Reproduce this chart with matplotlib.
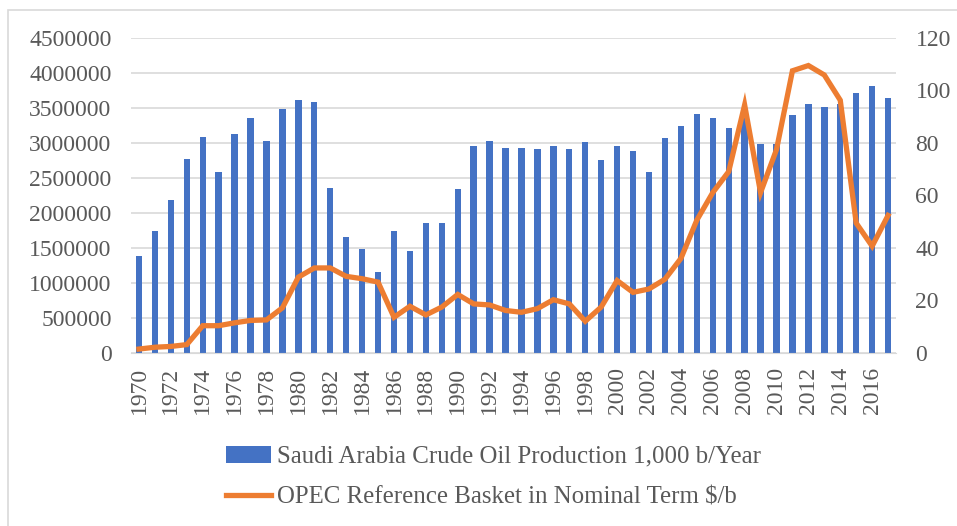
import matplotlib.pyplot as plt
import numpy as np
from matplotlib.patches import Rectangle

# data
years = list(range(1970, 2018))
production = [1380000, 1740000, 2190000, 2770000, 3090000, 2580000, 3130000, 3350000,
              3030000, 3480000, 3610000, 3580000, 2360000, 1650000, 1490000, 1150000,
              1740000, 1450000, 1860000, 1850000, 2340000, 2960000, 3030000, 2930000,
              2930000, 2920000, 2960000, 2910000, 3020000, 2760000, 2950000, 2880000,
              2580000, 3070000, 3240000, 3410000, 3360000, 3220000, 3360000, 2990000,
              2980000, 3400000, 3560000, 3520000, 3550000, 3720000, 3820000, 3640000]
opec_price = [1.5, 2.2, 2.5, 3.2, 10.4, 10.4, 11.5, 12.4, 12.6, 17.2, 28.9, 32.4,
              32.4, 29.2, 28.3, 27.0, 13.6, 17.8, 14.5, 17.5, 22.3, 18.7, 18.3, 16.2,
              15.5, 16.9, 20.3, 18.7, 12.1, 17.5, 27.6, 23.1, 24.4, 28.1, 36.0, 50.6,
              61.1, 69.1, 94.5, 61.1, 77.5, 107.5, 109.5, 105.9, 96.3, 49.5, 40.7, 52.4]
bar_label = "Saudi Arabia Crude Oil Production 1,000 b/Year"
line_label = "OPEC Reference Basket in Nominal Term $/b"

plt.rcParams['font.family'] = ['Liberation Serif', 'DejaVu Serif']
grey = '#595959'
fs = 17

fig = plt.figure(figsize=(9.57, 5.26), dpi=100)
fig.patches.append(Rectangle((8 / 957, -0.1), 1.2, (526 - 10) / 526 + 0.1,
                             transform=fig.transFigure, fill=False,
                             edgecolor='#D9D9D9', linewidth=1.2))
ax = fig.add_axes([0.1369, 0.3289, 0.7994, 0.5989])
ax2 = ax.twinx()

x = np.arange(len(years))
bars = ax.bar(x, production, width=0.4, color='#4472C4', label=bar_label, zorder=2)
line, = ax2.plot(x, opec_price, color='#ED7D31', linewidth=3.8, label=line_label,
                 solid_joinstyle='miter', zorder=3)

ax.set_xlim(-0.5, len(years) - 0.5)
ax.set_ylim(0, 4500000)
ax.set_yticks(np.arange(0, 4500001, 500000))
ax.set_yticklabels([str(v) for v in range(0, 4500001, 500000)])
ax2.set_ylim(0, 120)
ax2.set_yticks(range(0, 121, 20))

ax.set_xticks(x[::2])
ax.set_xticklabels([str(y) for y in years[::2]], rotation=90)

ax.grid(axis='y', color='#D9D9D9', linewidth=1.2, zorder=0)
ax.set_axisbelow(True)
for a in (ax, ax2):
    for s in a.spines.values():
        s.set_visible(False)
    a.tick_params(length=0, labelsize=fs, colors=grey)
ax.spines['bottom'].set_visible(True)
ax.spines['bottom'].set_color('#D9D9D9')
ax.tick_params(axis='y', pad=14)
ax.tick_params(axis='x', pad=10)
ax2.tick_params(axis='y', pad=14)
ax.patch.set_visible(False)
ax2.set_zorder(ax.get_zorder() + 1)
ax2.patch.set_visible(False)

leg = fig.legend([bars, line], [bar_label, line_label], loc='upper left',
                 bbox_to_anchor=(226 / 957, 0.153), frameon=False, fontsize=17.9,
                 handlelength=1.8, handletextpad=0.25, labelspacing=0.75,
                 borderaxespad=0, borderpad=0)
for t in leg.get_texts():
    t.set_color(grey)

fig.savefig('out.png', dpi=100)
